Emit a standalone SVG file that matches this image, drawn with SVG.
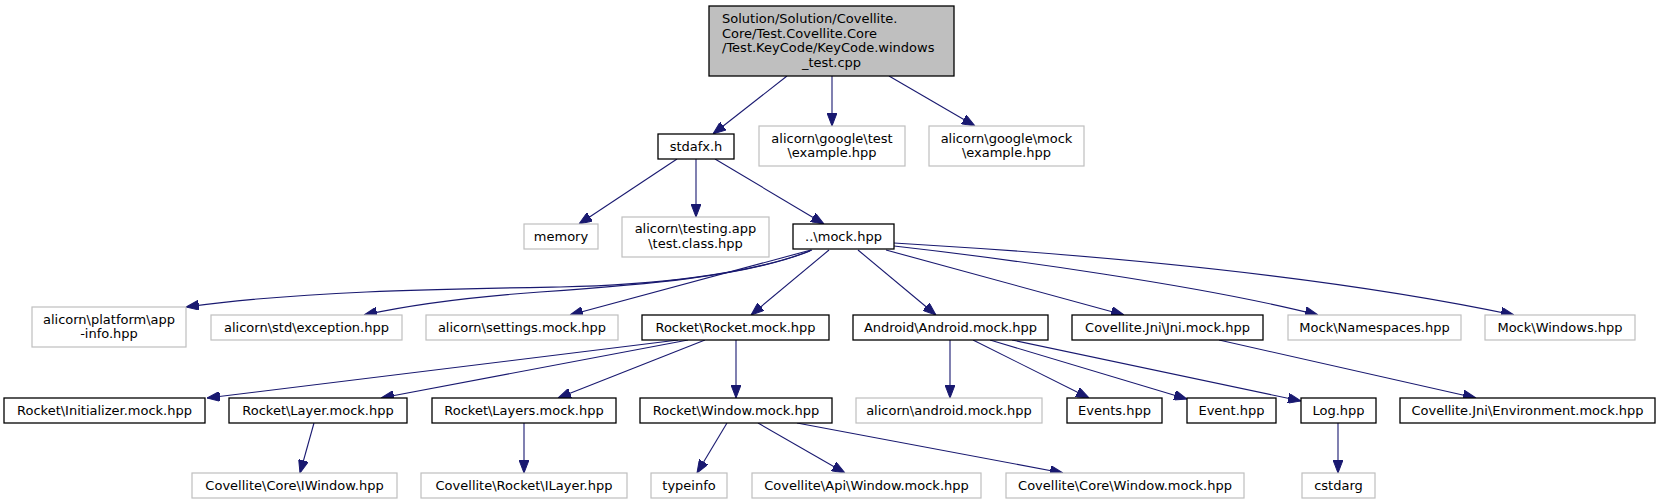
<svg xmlns="http://www.w3.org/2000/svg" width="1660" height="504" viewBox="0 0 1660 504">
<style>
text{font-family:"DejaVu Sans","Liberation Sans",sans-serif;font-size:13px;fill:#000;text-anchor:middle}
text.l{text-anchor:start}
rect{fill:#fff}
.k rect{stroke:#000;stroke-width:1.3}
.g rect{stroke:#bfbfbf;stroke-width:1.2}
.root rect{fill:#bfbfbf;stroke:#000;stroke-width:1.3}
#edges path{fill:none;stroke:#191970;stroke-width:1.1;marker-end:url(#ah)}
</style>
<defs>
<marker id="ah" markerUnits="userSpaceOnUse" markerWidth="13" markerHeight="10" viewBox="0 0 13 10" refX="13" refY="5" orient="auto">
<path d="M0,0 L13,5 L0,10 z" fill="#191970" stroke="#191970" stroke-width="1"/>
</marker>
</defs>
<rect x="0" y="0" width="1660" height="504" fill="#fff"/>
<g id="edges">
<path d="M787,76 L713,134"/>
<path d="M832,76 L832,126"/>
<path d="M889,76 L975,126"/>
<path d="M677,159 L579,224"/>
<path d="M696,159 L696,217"/>
<path d="M715,159 L824,224"/>
<path d="M812,250 C750,275 650,285 560,287 C440,289 300,291 186,307"/>
<path d="M810,251 C745,277 640,285 540,292 C470,297 410,305 364,315"/>
<path d="M811,250 L570,315"/>
<path d="M829,250 L751,315"/>
<path d="M858,250 L936,315"/>
<path d="M886,250 L1124,315"/>
<path d="M894,246 C1000,258 1200,285 1318,315"/>
<path d="M894,243 C1050,252 1300,270 1514,315"/>
<path d="M678,340 L207,398"/>
<path d="M688,340 L381,398"/>
<path d="M705,340 L558,398"/>
<path d="M736,340 L736,398"/>
<path d="M950,340 L950,398"/>
<path d="M973,340 L1089,398"/>
<path d="M990,340 L1187,399"/>
<path d="M1012,340 L1301,401"/>
<path d="M1219,340 L1476,398"/>
<path d="M314,423 L300,473"/>
<path d="M524,423 L524,473"/>
<path d="M727,423 L697,473"/>
<path d="M758,423 L845,473"/>
<path d="M797,423 L1063,473"/>
<path d="M1338,423 L1338,473"/>
</g>
<g id="root" class="root"><rect x="709" y="6" width="245" height="70"/>
<text class="l" x="722" y="23">Solution/Solution/Covellite.</text>
<text class="l" x="722" y="37.5">Core/Test.Covellite.Core</text>
<text class="l" x="722" y="52">/Test.KeyCode/KeyCode.windows</text>
<text x="831.5" y="66.5">_test.cpp</text></g>
<g id="stdafx" class="k"><rect x="658" y="134" width="76" height="25"/><text x="696" y="151">stdafx.h</text></g>
<g id="gtest" class="g"><rect x="759" y="126" width="146" height="40"/><text x="832" y="142.5">alicorn\google\test</text><text x="832" y="157">\example.hpp</text></g>
<g id="gmock" class="g"><rect x="929" y="126" width="155" height="40"/><text x="1006.5" y="142.5">alicorn\google\mock</text><text x="1006.5" y="157">\example.hpp</text></g>
<g id="memory" class="g"><rect x="524" y="224" width="74" height="25"/><text x="561" y="241">memory</text></g>
<g id="testingapp" class="g"><rect x="622" y="217" width="147" height="40"/><text x="695.5" y="233">alicorn\testing.app</text><text x="695.5" y="247.5">\test.class.hpp</text></g>
<g id="mockhpp" class="k"><rect x="793" y="224" width="101" height="25"/><text x="843.5" y="241">..\mock.hpp</text></g>
<g id="appinfo" class="g"><rect x="32" y="307" width="154" height="40"/><text x="109" y="323.5">alicorn\platform\app</text><text x="109" y="338">-info.hpp</text></g>
<g id="exception" class="g"><rect x="211" y="315" width="191" height="25"/><text x="306.5" y="332">alicorn\std\exception.hpp</text></g>
<g id="settings" class="g"><rect x="426" y="315" width="192" height="25"/><text x="522" y="332">alicorn\settings.mock.hpp</text></g>
<g id="rocketmock" class="k"><rect x="642" y="315" width="187" height="25"/><text x="735.5" y="332">Rocket\Rocket.mock.hpp</text></g>
<g id="androidmock" class="k"><rect x="853" y="315" width="195" height="25"/><text x="950.5" y="332">Android\Android.mock.hpp</text></g>
<g id="jnimock" class="k"><rect x="1072" y="315" width="191" height="25"/><text x="1167.5" y="332">Covellite.Jni\Jni.mock.hpp</text></g>
<g id="namespaces" class="g"><rect x="1288" y="315" width="173" height="25"/><text x="1374.5" y="332">Mock\Namespaces.hpp</text></g>
<g id="windows" class="g"><rect x="1485" y="315" width="150" height="25"/><text x="1560" y="332">Mock\Windows.hpp</text></g>
<g id="initializer" class="k"><rect x="4" y="398" width="201" height="25"/><text x="104.5" y="414.5">Rocket\Initializer.mock.hpp</text></g>
<g id="layer" class="k"><rect x="229" y="398" width="178" height="25"/><text x="318" y="414.5">Rocket\Layer.mock.hpp</text></g>
<g id="layers" class="k"><rect x="432" y="398" width="184" height="25"/><text x="524" y="414.5">Rocket\Layers.mock.hpp</text></g>
<g id="windowmock" class="k"><rect x="640" y="398" width="192" height="25"/><text x="736" y="414.5">Rocket\Window.mock.hpp</text></g>
<g id="alandroid" class="g"><rect x="856" y="398" width="186" height="25"/><text x="949" y="414.5">alicorn\android.mock.hpp</text></g>
<g id="events" class="k"><rect x="1067" y="398" width="95" height="25"/><text x="1114.5" y="414.5">Events.hpp</text></g>
<g id="event" class="k"><rect x="1187" y="398" width="89" height="25"/><text x="1231.5" y="414.5">Event.hpp</text></g>
<g id="log" class="k"><rect x="1301" y="398" width="75" height="25"/><text x="1338.5" y="414.5">Log.hpp</text></g>
<g id="environment" class="k"><rect x="1400" y="398" width="255" height="25"/><text x="1527.5" y="414.5">Covellite.Jni\Environment.mock.hpp</text></g>
<g id="iwindow" class="g"><rect x="192" y="473" width="205" height="25"/><text x="294.5" y="489.5">Covellite\Core\IWindow.hpp</text></g>
<g id="ilayer" class="g"><rect x="421" y="473" width="206" height="25"/><text x="524" y="489.5">Covellite\Rocket\ILayer.hpp</text></g>
<g id="typeinfo" class="g"><rect x="651" y="473" width="76" height="25"/><text x="689" y="489.5">typeinfo</text></g>
<g id="apiwindow" class="g"><rect x="752" y="473" width="229" height="25"/><text x="866.5" y="489.5">Covellite\Api\Window.mock.hpp</text></g>
<g id="corewindow" class="g"><rect x="1006" y="473" width="238" height="25"/><text x="1125" y="489.5">Covellite\Core\Window.mock.hpp</text></g>
<g id="cstdarg" class="g"><rect x="1302" y="473" width="73" height="25"/><text x="1338.5" y="489.5">cstdarg</text></g>
</svg>
